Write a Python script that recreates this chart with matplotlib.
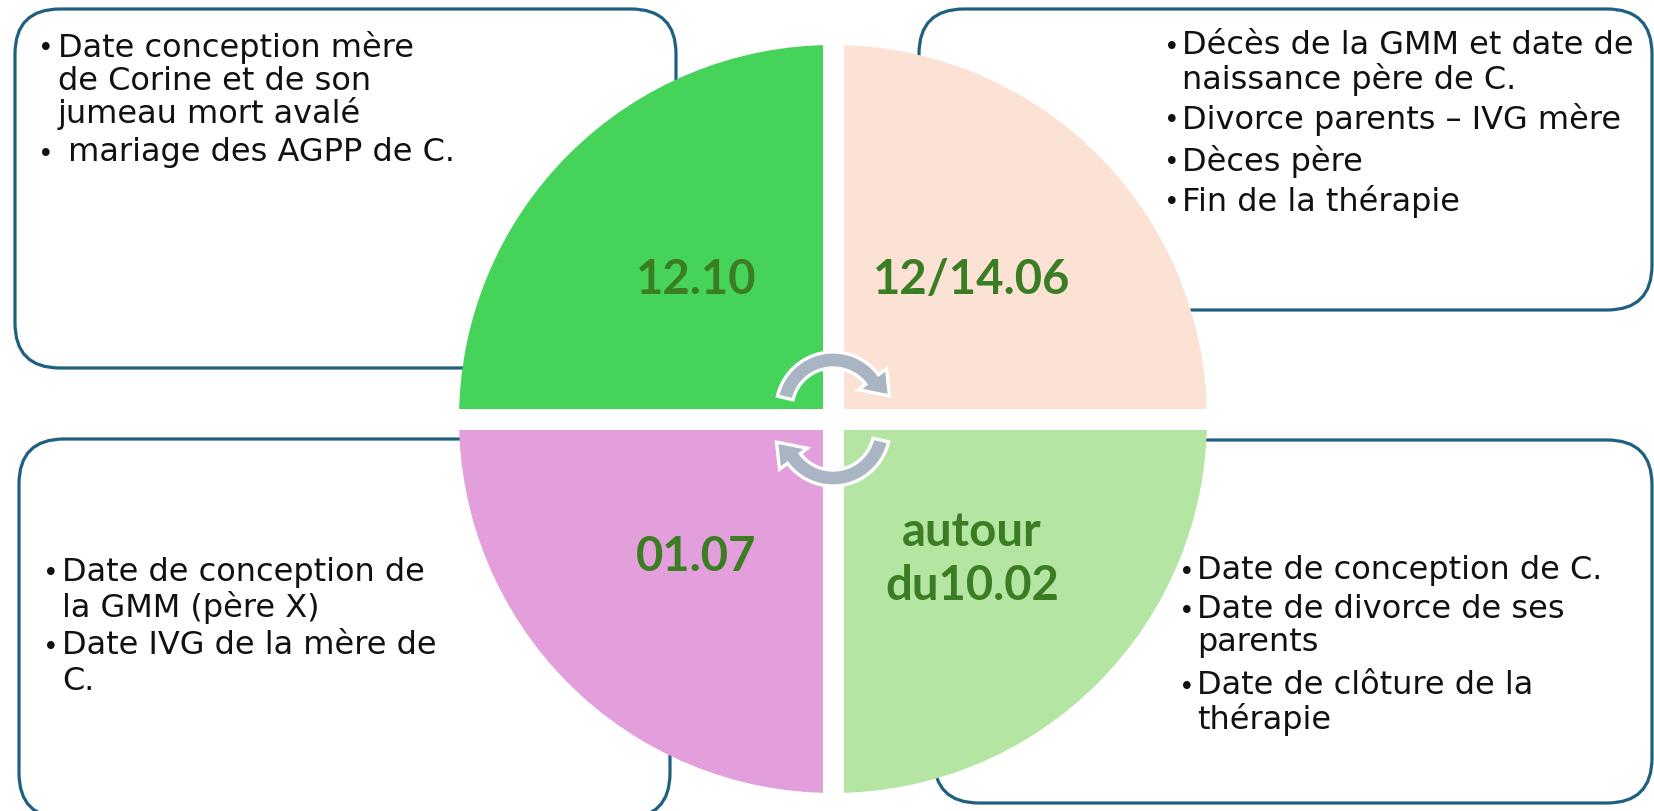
import numpy as np
import matplotlib
matplotlib.use("Agg")
import matplotlib.pyplot as plt
from matplotlib.patches import Wedge, FancyBboxPatch, Rectangle, Polygon

W, H = 1654, 811

# ---- content ----
quadrant_labels = ["12.10", "12/14.06", "01.07", "autour\ndu10.02"]
quadrant_colors = ["#46D35A", "#FBE2D5", "#E39EDC", "#B4E5A2"]
label_color = "#3B7D23"
box_color = "#1F5F82"

texts_top_left = [("•", "Date conception mère"), ("", "de Corine et de son"),
                  ("", "jumeau mort avalé"), ("•", " mariage des AGPP de C.")]
texts_top_right = [("•", "Décès de la GMM et date de"), ("", "naissance père de C."),
                   ("•", "Divorce parents – IVG mère"), ("•", "Dèces père"),
                   ("•", "Fin de la thérapie")]
texts_bottom_left = [("•", "Date de conception de"), ("", "la GMM (père X)"),
                     ("•", "Date IVG de la mère de"), ("", "C.")]
texts_bottom_right = [("•", "Date de conception de C."), ("•", "Date de divorce de ses"),
                      ("", "parents"), ("•", "Date de clôture de la"), ("", "thérapie")]

# ---- layout (pixel coordinates, y measured from top) ----
fig = plt.figure(figsize=(W / 100, H / 100), dpi=100)
ax = fig.add_axes([0, 0, 1, 1])
ax.set_xlim(0, W)
ax.set_ylim(0, H)
ax.set_aspect("equal")
ax.axis("off")

def Y(y):
    return H - y

# boxes: (x0, ytop, x1, ybottom)
boxes = [(15, 9, 676, 368), (919, 9, 1652, 310), (19, 439, 670, 818), (934, 440, 1652, 803)]
for (x0, yt, x1, yb) in boxes:
    ax.add_patch(FancyBboxPatch((x0, Y(yb)), x1 - x0, yb - yt,
                                boxstyle="round,pad=0,rounding_size=45",
                                fc="white", ec=box_color, lw=2.3, zorder=1))

# body text
body_font = dict(family="DejaVu Sans", fontsize=23, color="#111111", zorder=2)
bullet_font = dict(family="DejaVu Sans", fontsize=19, color="#111111", zorder=2)
def write_lines(lines, bx, tx, ys):
    for (b, t), y in zip(lines, ys):
        if b:
            ax.text(bx, Y(y + 2), b, ha="left", va="center", **bullet_font)
        ax.text(tx, Y(y), t, ha="left", va="center", **body_font)

write_lines(texts_top_left, 38, 58, [47, 82, 114, 153])
write_lines(texts_top_right, 1164, 1182, [46, 80, 119, 161, 201])
write_lines(texts_bottom_left, 43, 62, [572, 608, 646, 682])
write_lines(texts_bottom_right, 1179, 1197, [571, 610, 643, 686, 720])

# circle quadrants
cx, cy, R = 833, Y(419), 374
for (t1, t2), col in zip([(90, 180), (0, 90), (180, 270), (270, 360)], quadrant_colors):
    ax.add_patch(Wedge((cx, cy), R, t1, t2, fc=col, ec="none", zorder=3))
gap = 21
ax.add_patch(Rectangle((cx - gap / 2, cy - R - 2), gap, 2 * R + 4, fc="white", ec="none", zorder=3.5))
ax.add_patch(Rectangle((cx - R - 2, cy - gap / 2), 2 * R + 4, gap, fc="white", ec="none", zorder=3.5))

# quadrant labels
lab_font = dict(family="Lato", fontweight="bold", fontsize=34, color=label_color,
                ha="center", va="center", zorder=4, linespacing=1.25)
for (x, y), lab in zip([(696, 280), (972, 280), (696, 557), (972, 559)], quadrant_labels):
    ax.text(x, Y(y), lab, **lab_font)

# circular arrows
def curved_arrow(ccx, ccy, r_in, r_out, a0, a_base, a_tip, r_tip, w_in, w_out):
    ang = np.radians(np.linspace(a0, a_base, 80))
    outer = np.c_[ccx + r_out * np.cos(ang), ccy + r_out * np.sin(ang)]
    inner = np.c_[ccx + r_in * np.cos(ang[::-1]), ccy + r_in * np.sin(ang[::-1])]
    ab, at = np.radians(a_base), np.radians(a_tip)
    head = np.array([
        [ccx + w_out * np.cos(ab), ccy + w_out * np.sin(ab)],
        [ccx + r_tip * np.cos(at), ccy + r_tip * np.sin(at)],
        [ccx + w_in * np.cos(ab), ccy + w_in * np.sin(ab)],
    ])
    pts = np.vstack([outer, head, inner])
    ax.add_patch(Polygon(pts, closed=True, fc="#A9B5C3", ec="white", lw=2.4,
                         joinstyle="miter", zorder=5))

curved_arrow(cx, Y(409), 41, 57, 167, 37, 13, 58, 32, 67)
curved_arrow(cx, Y(429), 41, 57, -13, -143, -167, 58, 32, 67)

fig.savefig("out.png", dpi=100)
